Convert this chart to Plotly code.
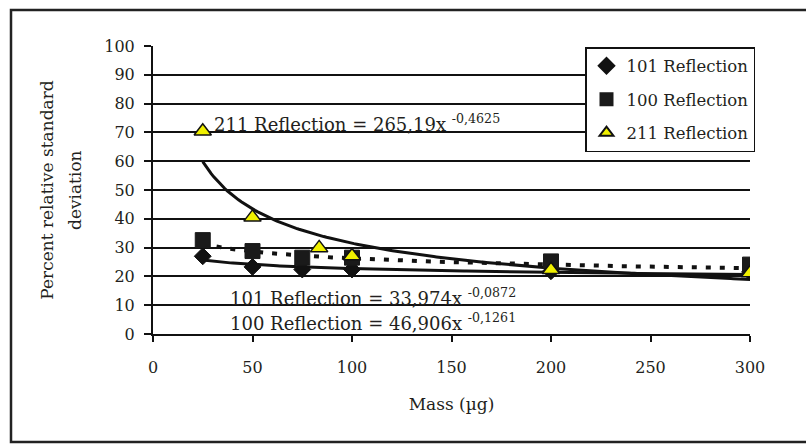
import numpy as np
import plotly.graph_objects as go

# ---- data ----
mass_101 = [25, 50, 75, 100, 200, 300]
rsd_101 = [27.0, 23.3, 22.4, 22.4, 21.8, 21.5]

mass_100 = [25, 50, 75, 100, 200, 300]
rsd_100 = [32.6, 28.8, 26.5, 26.5, 25.2, 24.1]

mass_211 = [25, 50, 83.5, 100, 200, 300]
rsd_211 = [70.4, 40.5, 29.9, 27.1, 22.3, 21.2]

# power-law trendline coefficients shown on the chart (y = a * x^b)
fit_names = ["101 Reflection", "100 Reflection", "211 Reflection"]
fit_a = [33.974, 46.906, 265.19]
fit_b = [-0.0872, -0.1261, -0.4625]
fit_labels = ["33,974", "46,906", "265,19"]
fit_exp_labels = ["-0,0872", "-0,1261", "-0,4625"]
fit_dash = ["solid", "5px,9px", "solid"]
fit_width = [3, 4, 3]

x_ticks = [0, 50, 100, 150, 200, 250, 300]
y_ticks = list(range(0, 101, 10))

FONT = "DejaVu Serif"
INK = "#231f20"

fig = go.Figure()

xfit = np.linspace(25, 300, 200)
for a, b, d, w in zip(fit_a, fit_b, fit_dash, fit_width):
    fig.add_trace(go.Scatter(x=xfit, y=a * xfit ** b, mode="lines",
                             line=dict(color="#111111", width=w, dash=d),
                             showlegend=False, hoverinfo="skip"))

fig.add_trace(go.Scatter(x=mass_101, y=rsd_101, mode="markers", name="101 Reflection",
                         legendgroup="g1",
                         marker=dict(symbol="diamond", size=13, color="#111111",
                                     line=dict(color="#111111", width=1))))
fig.add_trace(go.Scatter(x=mass_100, y=rsd_100, mode="markers", name="100 Reflection",
                         legendgroup="g2",
                         marker=dict(symbol="square", size=15, color="#1a1a1a",
                                     line=dict(color="#1a1a1a", width=1))))
fig.add_trace(go.Scatter(x=mass_211, y=rsd_211, mode="markers", name="211 Reflection",
                         legendgroup="g3",
                         marker=dict(symbol="triangle-up", size=15, color="#f0f000",
                                     line=dict(color="#111111", width=1.5))))

# trendline equation labels
ann_pos = {"211 Reflection": (29.5, 73.3), "101 Reflection": (37.5, 12.8), "100 Reflection": (37.5, 4.3)}
for name, lab, ex in zip(fit_names, fit_labels, fit_exp_labels):
    ax, ay = ann_pos[name]
    fig.add_annotation(x=ax, y=ay, xref="x", yref="y", xanchor="left", yanchor="middle",
                       showarrow=False,
                       text=f"{name} = {lab}x <sup>{ex}</sup>",
                       font=dict(family=FONT, size=18, color=INK))

# y-axis title (two lines)
W, H = 806, 444
L, R, T, B = 153, 56, 46, 110
pw, ph = W - L - R, H - T - B
def px_to_paper(px, py):
    return (px - L) / pw, (H - B - py) / ph

for txt, xp in [("Percent relative standard", 46.7), ("deviation", 75)]:
    xx, yy = px_to_paper(xp, 190)
    fig.add_annotation(x=xx, y=yy, xref="paper", yref="paper", textangle=-90,
                       showarrow=False, xanchor="center", yanchor="middle",
                       text=txt, font=dict(family=FONT, size=17, color=INK))

# outer frame
fx0, fy0 = px_to_paper(11, 442)
fx1, fy1 = px_to_paper(812, 10)
fig.add_shape(type="rect", xref="paper", yref="paper", x0=fx0, y0=fy0, x1=fx1, y1=fy1,
              line=dict(color="#222222", width=2.5), layer="below")

lx, ly = px_to_paper(585, 47)
fig.update_layout(
    width=W, height=H,
    margin=dict(l=L, r=R, t=T, b=B),
    paper_bgcolor="white", plot_bgcolor="white",
    font=dict(family=FONT, size=16, color=INK),
    legend=dict(x=lx, y=ly, xanchor="left", yanchor="top",
                bordercolor="#111111", borderwidth=1.5, bgcolor="white",
                font=dict(family=FONT, size=16.5, color=INK),
                itemsizing="constant", tracegroupgap=9),
    xaxis=dict(range=[0, 300], tickvals=x_ticks, showgrid=False,
               showline=True, linecolor="#111111", linewidth=2,
               ticks="outside", ticklen=6, tickwidth=2, tickcolor="#111111",
               ticklabelstandoff=12, zeroline=False,
               title=dict(text="Mass (µg)", font=dict(family=FONT, size=17, color=INK), standoff=22)),
    yaxis=dict(range=[0, 100], tickvals=y_ticks, showgrid=True, gridcolor="#111111", gridwidth=1.5,
               showline=True, linecolor="#111111", linewidth=2,
               ticks="outside", ticklen=7, tickwidth=2, tickcolor="#111111",
               ticklabelstandoff=6, zeroline=False),
)

fig.write_html("out.html", config={"displayModeBar": False},
               post_script="document.body.style.margin='0';")
